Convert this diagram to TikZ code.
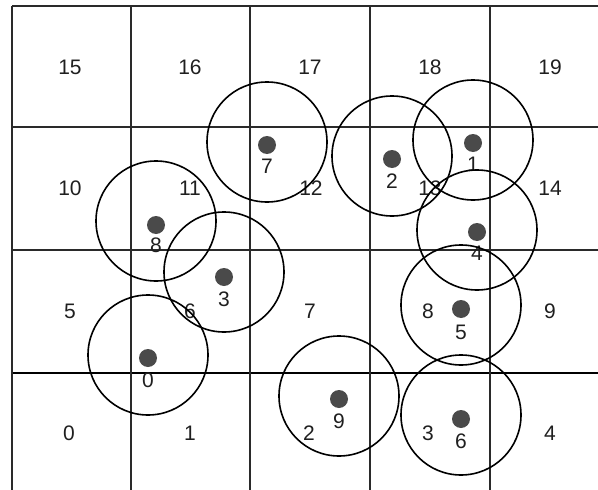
\documentclass[tikz,border=0pt]{standalone}
\usepackage{fontspec}
\setmainfont{Liberation Sans}
\usepackage{tikz}
\usetikzlibrary{positioning}
\definecolor{grid-line}{HTML}{2A2A2A}
\definecolor{pt-fill}{HTML}{4A4A4A}

\begin{document}
\begin{tikzpicture}[x=1pt, y=-1pt,
    cell/.style={font=\fontsize{21}{21}\selectfont, text=black!88, inner sep=0pt},
    pt/.style={circle, fill=pt-fill, minimum size=18pt, inner sep=0pt},
    ptnum/.style={font=\fontsize{21}{21}\selectfont, text=black!88, inner sep=0pt},
    rangecircle/.style={draw, circle, minimum size=120pt, inner sep=0pt, line width=1.6pt}]
    \useasboundingbox (0,0) rectangle (598,490);
    % grid
    \draw[grid-line, line width=2.2pt] (12,6) -- (598,6);
    \draw[grid-line, line width=1.8pt] (12,127) -- (598,127);
    \draw[grid-line, line width=1.8pt] (12,250) -- (598,250);
    \draw[black, line width=2.8pt] (12,373) -- (598,373);
    \draw[grid-line, line width=2.2pt] (12,6) -- (12,490);
    \draw[grid-line, line width=1.8pt] (131,6) -- (131,490);
    \draw[grid-line, line width=1.8pt] (250,6) -- (250,490);
    \draw[grid-line, line width=1.8pt] (370,6) -- (370,490);
    \draw[grid-line, line width=1.8pt] (490,6) -- (490,490);
    % cell numbers
    \node[cell] (c15) at (70,67) {15};
    \node[cell] (c16) at (190,67) {16};
    \node[cell] (c17) at (310,67) {17};
    \node[cell] (c18) at (430,67) {18};
    \node[cell] (c19) at (550,67) {19};
    \node[cell] (c10) at (70,188) {10};
    \node[cell] (c11) at (190,188) {11};
    \node[cell] (c12) at (311,188) {12};
    \node[cell] (c13) at (430,188) {13};
    \node[cell] (c14) at (550,188) {14};
    \node[cell] (c5) at (70,311) {5};
    \node[cell] (c6) at (190,311) {6};
    \node[cell] (c7) at (310,311) {7};
    \node[cell] (c8) at (428,311) {8};
    \node[cell] (c9) at (550,311) {9};
    \node[cell] (c0) at (69,433) {0};
    \node[cell] (c1) at (190,433) {1};
    \node[cell] (c2) at (309,433) {2};
    \node[cell] (c3) at (428,433) {3};
    \node[cell] (c4) at (550,433) {4};
    % points
    \node[pt] (p0) at (148,358) {};
    \node[pt] (p1) at (473,143) {};
    \node[pt] (p2) at (392,159) {};
    \node[pt] (p3) at (224,277) {};
    \node[pt] (p4) at (477,232) {};
    \node[pt] (p5) at (461,309) {};
    \node[pt] (p6) at (461,419) {};
    \node[pt] (p7) at (267,145) {};
    \node[pt] (p8) at (156,225) {};
    \node[pt] (p9) at (339,399) {};
    \node[ptnum, below=5pt of p0] (n0) {0};
    \node[ptnum, below=5pt of p1] (n1) {1};
    \node[ptnum, below=5pt of p2] (n2) {2};
    \node[ptnum, below=5pt of p3] (n3) {3};
    \node[ptnum, below=5pt of p4] (n4) {4};
    \node[ptnum, below=7pt of p5] (n5) {5};
    \node[ptnum, below=5pt of p6] (n6) {6};
    \node[ptnum, below=5pt of p7] (n7) {7};
    \node[ptnum, below=3pt of p8] (n8) {8};
    \node[ptnum, below=5pt of p9] (n9) {9};
    % ranges
    \node[rangecircle, yshift=3pt] (r0) at (p0) {};
    \node[rangecircle, yshift=3pt] (r1) at (p1) {};
    \node[rangecircle, yshift=3pt] (r2) at (p2) {};
    \node[rangecircle, yshift=5pt] (r3) at (p3) {};
    \node[rangecircle, yshift=2pt] (r4) at (p4) {};
    \node[rangecircle, yshift=4pt] (r5) at (p5) {};
    \node[rangecircle, yshift=4pt] (r6) at (p6) {};
    \node[rangecircle, yshift=3pt] (r7) at (p7) {};
    \node[rangecircle, yshift=4pt] (r8) at (p8) {};
    \node[rangecircle, yshift=3pt] (r9) at (p9) {};
\end{tikzpicture}
\end{document}
